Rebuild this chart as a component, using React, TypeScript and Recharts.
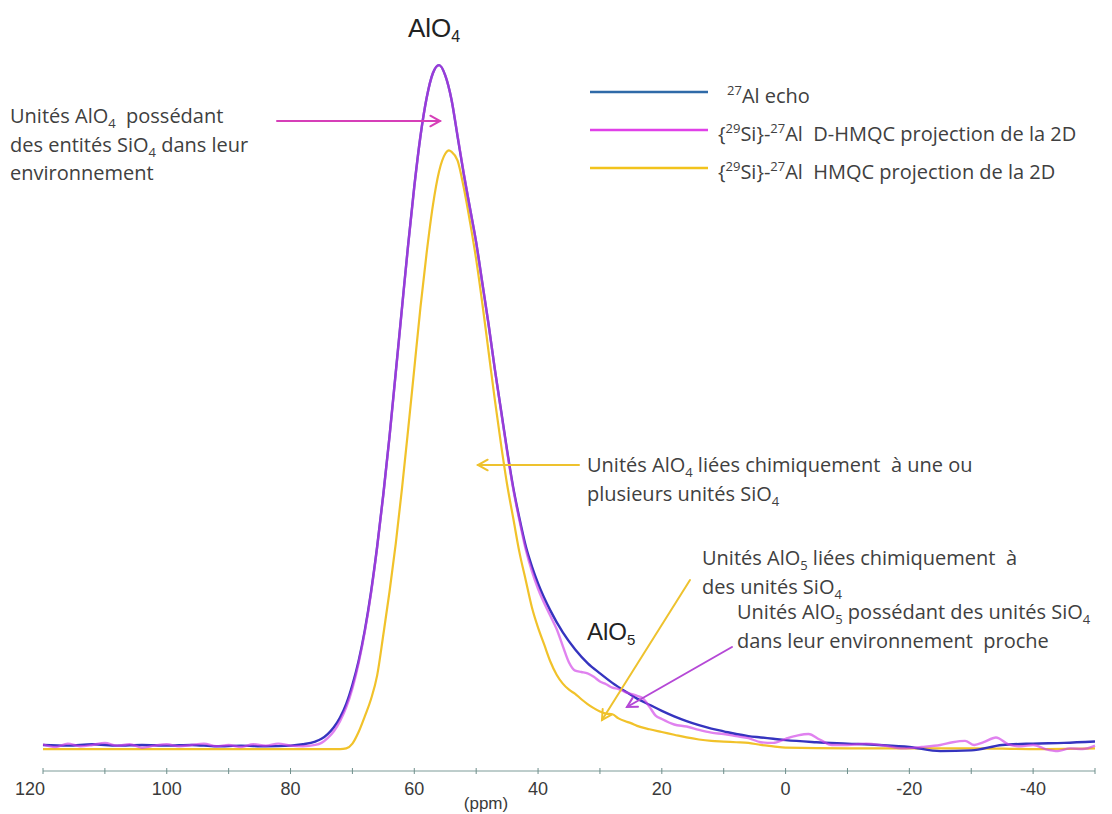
import React from 'react'
import { LineChart, Line, XAxis, YAxis } from 'recharts'

const W = 1112
const H = 814

// x axis (ppm), reversed: 120 on the left, -50 on the right
const PPM_TICKS = [120, 110, 100, 90, 80, 70, 60, 50, 40, 30, 20, 10, 0, -10, -20, -30, -40, -50]

// 27Al echo (blue)
const ECHO_PPM = [
  120, 116, 112, 108, 104, 100, 96, 92, 88, 84,
  80, 78, 76, 75, 74, 73, 72, 71, 70, 69,
  68, 67, 66, 65, 64, 63, 62, 61, 60, 59,
  58, 57, 56, 55, 54, 53, 52, 51, 50, 49,
  48, 47, 46, 45, 44, 43, 42, 41, 40, 38,
  36, 34, 32, 30, 28, 26, 24, 22, 20, 18,
  16, 14, 12, 10, 8, 6, 4, 2, 0, -5,
  -10, -15, -20, -25, -30, -35, -40, -45, -50,
]
const ECHO_INT = [
  0.3, 0.2, 0.4, 0.2, 0.3, 0.2, 0.3, 0.1, 0.2, 0.1,
  0.2, 0.4, 0.8, 1.2, 1.9, 2.9, 4.3, 6.3, 9.1, 12.6,
  17.1, 22.7, 29.4, 37.1, 45.6, 54.9, 64.3, 73.6, 82.2, 89.6,
  95.2, 98.8, 100, 98.5, 95, 89.5, 84, 79, 74, 68,
  62, 55.5, 49.5, 43.5, 38, 33.5, 29.5, 26.5, 24, 20,
  16.8, 14.3, 12.3, 10.8, 9.4, 8.2, 7.1, 6.2, 5.3, 4.5,
  3.8, 3.2, 2.7, 2.3, 1.9, 1.6, 1.4, 1.2, 1.0, 0.7,
  0.5, 0.3, 0.0, -0.6, -0.5, 0.3, 0.5, 0.6, 0.8,
]

// {29Si}-27Al D-HMQC projection (magenta)
const DHMQC_PPM = [
  120, 118, 116, 114, 112, 110, 108, 106, 104, 102,
  100, 98, 96, 94, 92, 90, 88, 86, 84, 82,
  80, 78, 76, 75, 74, 73, 72, 71, 70, 69,
  68, 67, 66, 65, 64, 63, 62, 61, 60, 59,
  58, 57, 56, 55, 54, 53, 52, 51, 50, 49,
  48, 47, 46, 45, 44, 43, 42, 41, 40, 38,
  37, 36, 35, 34, 33, 32, 31, 30, 29, 28,
  27, 26, 25, 24, 23, 22, 21, 20, 18, 16,
  14, 12, 10, 8, 6, 4, 2, 0, -2, -3.7,
  -5.5, -7.5, -10, -13, -16, -19, -22, -25, -27, -29,
  -30.5, -32, -34, -36, -38, -40, -42, -44, -46, -48,
  -50,
]
const DHMQC_INT = [
  0.4, 0.0, 0.5, 0.1, 0.3, 0.6, 0.2, 0.4, -0.1, 0.2,
  0.4, 0.1, 0.3, 0.5, 0.1, 0.3, 0.0, 0.4, 0.2, 0.5,
  0.2, 0.1, 0.3, 0.6, 1.3, 2.3, 3.8, 5.8, 8.6, 12.3,
  16.9, 22.5, 29.3, 37, 45.5, 54.8, 64.2, 73.5, 82.1, 89.6,
  95.2, 98.8, 100, 98.5, 95, 89.6, 84.1, 79, 74, 68,
  62, 55.5, 49.4, 43.3, 37.8, 33.2, 29, 25.8, 23.2, 19.2,
  17.3, 14.8, 12.4, 11.2, 11.0, 10.8, 10.3, 9.6, 9.2, 8.7,
  8.5, 8.1, 7.8, 7.5, 7.1, 5.9, 4.6, 4.1, 3.3, 3.0,
  2.5, 2.1, 1.9, 1.6, 1.3, 0.7, 0.6, 1.2, 1.7, 1.9,
  1.1, 0.3, 0.3, 0.5, 0.2, -0.2, 0.0, 0.3, 0.7, 0.9,
  0.3, 0.7, 1.4, 0.4, 0.1, 0.3, -0.3, -0.6, -0.2, -0.3,
  0.2,
]

// {29Si}-27Al HMQC projection (yellow)
const HMQC_PPM = [
  120, 110, 100, 90, 80, 74, 72, 71, 70, 69,
  68, 67, 66, 65, 64, 63, 62, 61, 60, 59,
  58, 57, 56, 55, 54.4, 54, 53, 52, 51, 50,
  49, 48, 47, 46, 45, 44, 43, 42, 41, 40,
  39, 38, 37, 36, 35, 34, 33, 32, 31, 30,
  29, 28, 27, 26, 25, 24, 22, 20, 18, 16,
  14, 12, 10, 8, 6, 4, 2, 0, -10, -20,
  -30, -40, -50,
]
const HMQC_INT = [
  -0.3, -0.3, -0.3, -0.3, -0.3, -0.3, -0.3, -0.2, 0.5, 2.2,
  4.5, 7.0, 10.5, 16.5, 22.8, 29.8, 37.8, 46.5, 55.5, 64.5,
  72.5, 79.4, 84.4, 87, 87.5, 87.3, 86, 82, 77, 71.5,
  65, 58, 51, 44.5, 38.5, 33.5, 28.5, 24.5, 20.5, 17.5,
  15, 12.5, 10.6, 9.3, 8.4, 7.8, 7.0, 6.3, 5.7, 5.2,
  4.9, 4.8, 4.2, 3.8, 3.5, 3.1, 2.6, 2.2, 1.8, 1.4,
  1.1, 0.9, 0.8, 0.7, 0.6, 0.3, 0.1, -0.1, -0.2, -0.2,
  -0.2, -0.3, -0.2,
]

const toRows = (ppm: number[], val: number[]) => ppm.map((p, i) => ({ ppm: p, v: val[i] }))

const echoData = toRows(ECHO_PPM, ECHO_INT)
const dhmqcData = toRows(DHMQC_PPM, DHMQC_INT)
const hmqcData = toRows(HMQC_PPM, HMQC_INT)

const BLUE = '#3534bf'
const MAGENTA = '#cf3fe6'
const YELLOW = '#f1c22a'
const TEXT = '#404040'
const SANS = '"Open Sans", "Noto Sans", sans-serif'
const ARIAL = '"Liberation Sans", Arial, sans-serif'
const NB = '\u00a0'

function PpmTick(props: any) {
  const { x, y, payload } = props
  const v = payload.value
  const showLabel = v % 20 === 0 && v > -50
  return (
    <g>
      <line x1={x} x2={x} y1={y - 3} y2={y + 3} stroke="#6f8f8c" strokeWidth={1} />
      {showLabel && (
        <text
          x={x + (v === 120 ? -13 : 0)}
          y={y + 24}
          textAnchor="middle"
          fontSize={18}
          fill="#3a3a3a"
          fontFamily={ARIAL}
        >
          {v}
        </text>
      )}
    </g>
  )
}

function Arrow({ x1, y1, x2, y2, color }: { x1: number; y1: number; x2: number; y2: number; color: string }) {
  const a = Math.atan2(y2 - y1, x2 - x1)
  const len = 11
  const spread = 0.5
  const p1 = [x2 - len * Math.cos(a - spread), y2 - len * Math.sin(a - spread)]
  const p2 = [x2 - len * Math.cos(a + spread), y2 - len * Math.sin(a + spread)]
  return (
    <g stroke={color} strokeWidth={2} fill="none" strokeLinecap="round">
      <line x1={x1} y1={y1} x2={x2} y2={y2} />
      <polyline points={`${p1[0]},${p1[1]} ${x2},${y2} ${p2[0]},${p2[1]}`} />
    </g>
  )
}

// segments: plain strings, or ['sub', '4'] / ['sup', '27']
type Seg = string | [string, string]

function Rich({ x, y, segs, small = 13 }: { x: number; y: number; segs: Seg[]; small?: number }) {
  let shift = 0
  return (
    <text x={x} y={y}>
      {segs.map((s, i) => {
        const kind = typeof s === 'string' ? 'txt' : s[0]
        const str = typeof s === 'string' ? s : s[1]
        const target = kind === 'sub' ? 5 : kind === 'sup' ? -8 : 0
        const dy = target - shift
        shift = target
        return (
          <tspan key={i} dy={dy} fontSize={kind === 'txt' ? undefined : small}>
            {str}
          </tspan>
        )
      })}
    </text>
  )
}

export default function App() {
  return (
    <div style={{ position: 'absolute', left: 0, top: 0, width: W, height: H, background: '#fff' }}>
      <LineChart width={W} height={H} margin={{ top: 31, right: 17, bottom: 0, left: 43 }}>
        <XAxis
          dataKey="ppm"
          type="number"
          domain={[-50, 120]}
          reversed
          ticks={PPM_TICKS}
          interval={0}
          height={43}
          tickLine={false}
          tickSize={0}
          tickMargin={0}
          tick={<PpmTick />}
          axisLine={{ stroke: '#7d9b98', strokeWidth: 1 }}
        />
        <YAxis hide type="number" domain={[-3.52, 105]} />
        <Line
          data={hmqcData}
          dataKey="v"
          type="monotone"
          stroke={YELLOW}
          strokeWidth={2.2}
          dot={false}
          isAnimationActive={false}
        />
        <Line
          data={echoData}
          dataKey="v"
          type="monotone"
          stroke={BLUE}
          strokeWidth={2.4}
          dot={false}
          isAnimationActive={false}
        />
        <Line
          data={dhmqcData}
          dataKey="v"
          type="monotone"
          stroke={MAGENTA}
          strokeOpacity={0.65}
          strokeWidth={2.4}
          dot={false}
          isAnimationActive={false}
        />
      </LineChart>

      <svg
        width={W}
        height={H}
        style={{ position: 'absolute', left: 0, top: 0, pointerEvents: 'none' }}
      >
        {/* peak labels */}
        <g fontSize={26} fill="#222" fontFamily={ARIAL}>
          <Rich x={408} y={37} small={16} segs={['AlO', ['sub', '4']]} />
        </g>
        <g fontSize={24} fill="#222" fontFamily={ARIAL}>
          <Rich x={587} y={640} small={15} segs={['AlO', ['sub', '5']]} />
        </g>

        {/* legend */}
        <line x1={590} x2={708} y1={92} y2={92} stroke="#2f6aa8" strokeWidth={2.5} />
        <line x1={590} x2={708} y1={130} y2={130} stroke="#e040e8" strokeWidth={2.5} />
        <line x1={590} x2={708} y1={168} y2={168} stroke="#f2c31c" strokeWidth={2.5} />
        <g fontFamily={SANS} fontSize={20} fill={TEXT}>
          <Rich x={727} y={103} segs={[['sup', '27'], 'Al echo']} />
          <Rich
            x={718}
            y={141}
            segs={['{', ['sup', '29'], 'Si}-', ['sup', '27'], `Al ${NB}D-HMQC projection de la 2D`]}
          />
          <Rich
            x={718}
            y={179}
            segs={['{', ['sup', '29'], 'Si}-', ['sup', '27'], `Al ${NB}HMQC projection de la 2D`]}
          />

          {/* annotations */}
          <Rich x={10} y={123} segs={['Unités AlO', ['sub', '4'], ` ${NB}possédant`]} />
          <Rich x={10} y={151.5} segs={['des entités SiO', ['sub', '4'], ' dans leur']} />
          <Rich x={10} y={180} segs={['environnement']} />

          <Rich x={587} y={472} segs={['Unités AlO', ['sub', '4'], ` liées chimiquement ${NB}à une ou`]} />
          <Rich x={587} y={501} segs={['plusieurs unités SiO', ['sub', '4']]} />

          <Rich x={702} y={565} segs={['Unités AlO', ['sub', '5'], ` liées chimiquement ${NB}à`]} />
          <Rich x={702} y={594} segs={['des unités SiO', ['sub', '4']]} />

          <Rich
            x={737}
            y={619}
            segs={['Unités AlO', ['sub', '5'], ' possédant des unités SiO', ['sub', '4']]}
          />
          <Rich x={737} y={648} segs={[`dans leur environnement ${NB}proche`]} />
        </g>

        <Arrow x1={277} y1={121} x2={440} y2={121} color="#d63fb8" />
        <Arrow x1={579} y1={465} x2={478} y2={465} color="#eec22e" />
        <Arrow x1={690} y1={580} x2={602} y2={720} color="#eec22e" />
        <Arrow x1={732} y1={647} x2={627} y2={707} color="#b548d6" />

        <text x={486} y={809} textAnchor="middle" fontSize={17} fill="#3a3a3a" fontFamily={ARIAL}>
          (ppm)
        </text>
      </svg>
    </div>
  )
}
